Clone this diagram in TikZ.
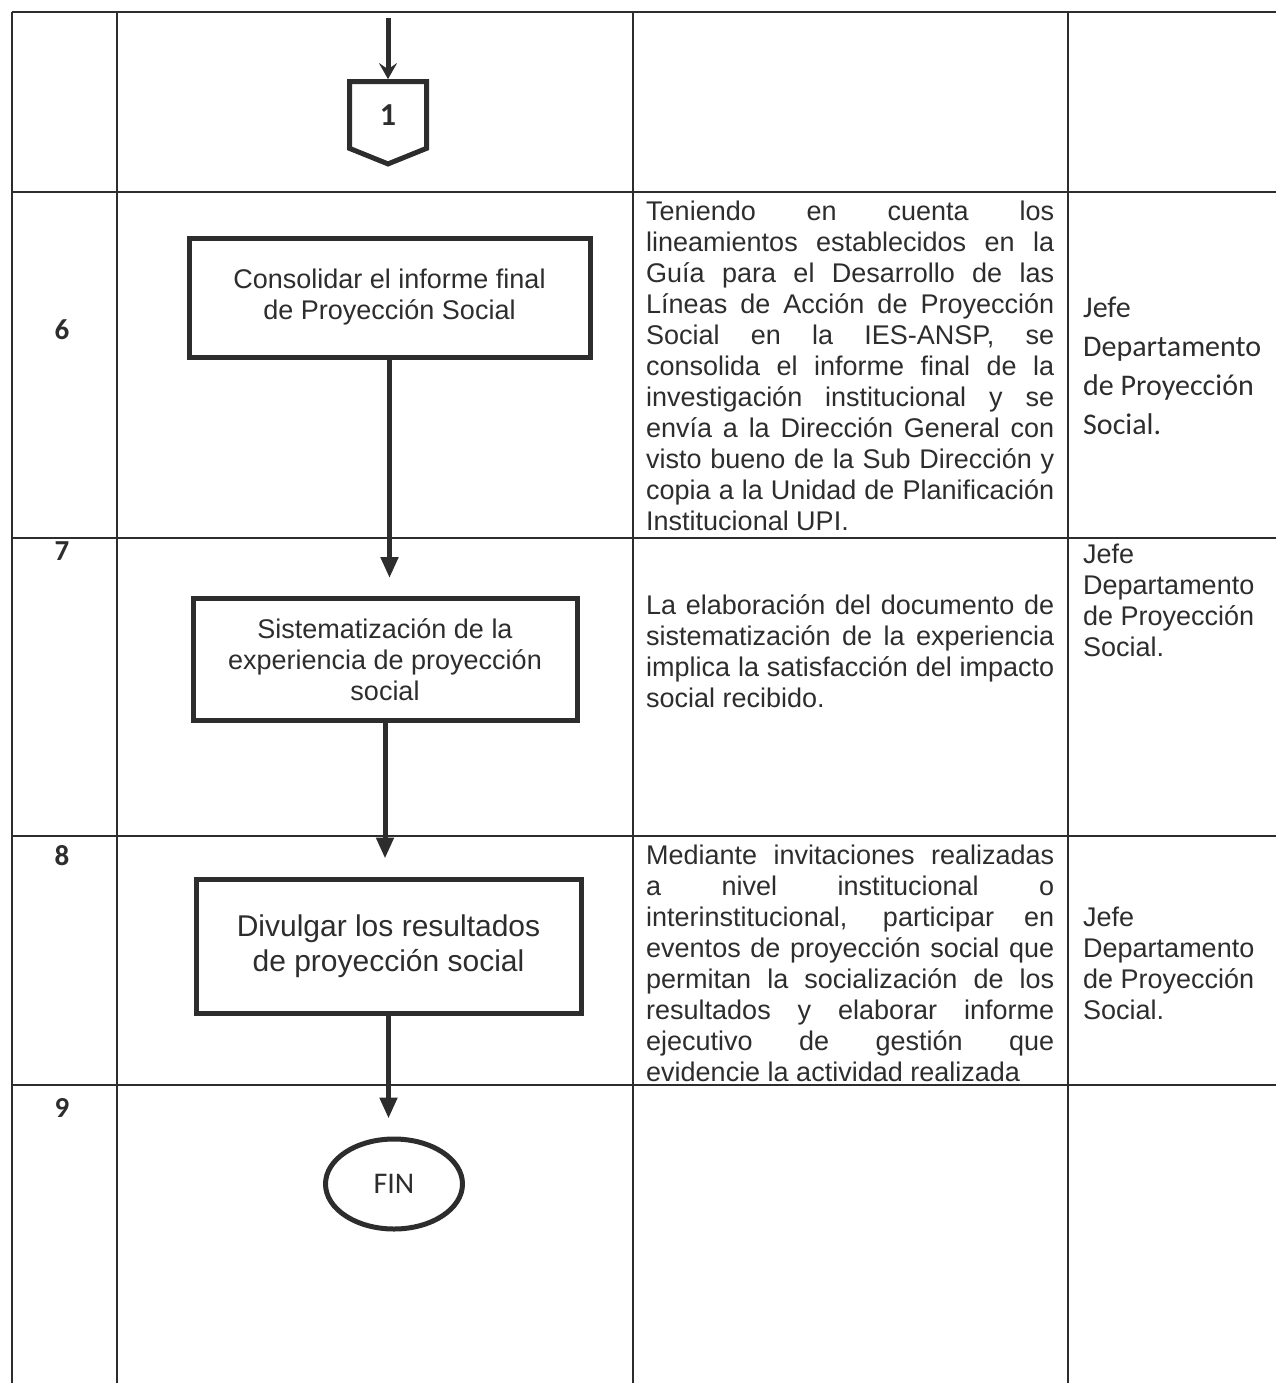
\documentclass[tikz,border=0pt]{standalone}
\usepackage{fontspec}
\setmainfont{Liberation Sans}
\newfontfamily\calib{Carlito}
\usetikzlibrary{arrows.meta,positioning,shapes.geometric,shapes.symbols}
\definecolor{ink}{RGB}{45,45,45}

\begin{document}
\begin{tikzpicture}[x=1pt,y=-1pt,
  every node/.style={text=ink,inner sep=0pt},
  grid/.style={draw=ink,line width=1.8pt},
  num/.style={font=\calib\bfseries\fontsize{29}{33}\selectfont},
  procbox/.style={draw=ink,line width=5pt,align=center,font=\fontsize{27}{31}\selectfont},
  offpage/.style={draw=ink,line width=5pt,shape=signal,signal to=south,signal pointer angle=136,minimum width=77pt,minimum height=70pt,font=\calib\bfseries\fontsize{32}{36}\selectfont},
  endnode/.style={draw=ink,line width=5pt,ellipse,minimum width=137pt,minimum height=90pt,font=\calib\fontsize{30}{34}\selectfont},
  desc/.style={anchor=west,text width=408pt,align=justify,font=\fontsize{27}{31}\selectfont},
  resp/.style={anchor=west,align=left,font=\fontsize{27}{31}\selectfont},
  ar/.style={-{Triangle[length=21pt,width=17pt]},draw=ink,line width=5pt,shorten >=18pt}]
\useasboundingbox (0,0) rectangle (1276,1383);
% table
\foreach \y in {12,192,538,836,1085} \draw[grid] (12,\y) -- (1276,\y);
\foreach \x in {12,117,633,1068} \draw[grid] (\x,12) -- (\x,1383);
% step numbers
\node[num] (n6) at (62,330) {6};
\node[num] (n7) at (62,551) {7};
\node[num] (n8) at (62,856) {8};
\node[num] (n9) at (62,1108) {9};
% flow
\node[offpage] (c1) at (388,115) {1};
\coordinate (in) at (388,18);
\node[procbox,minimum width=401pt,minimum height=119pt] (b1) at (389.5,297.5) {Consolidar el informe final\\de Proyección Social};
\node[procbox,minimum width=384pt,minimum height=122pt] (b2) at (385,659.5) {Sistematización de la\\experiencia de proyección\\social};
\node[procbox,minimum width=385pt,minimum height=134pt,font=\fontsize{30}{35}\selectfont] (b3) at (388.5,946) {Divulgar los resultados\\de proyección social};
\node[endnode] (fin) at (394,1184) {FIN};
\draw[-{Stealth[length=16pt,width=18pt,inset=6pt]},draw=ink,line width=5pt] (in) -- (c1.north);
\foreach \a/\b in {b1/b2,b2/b3,b3/fin} \draw[ar] (\a.south) -- (\a.south |- \b.north);
% descriptions
\node[desc] (d6) at (646,366) {Teniendo en cuenta los\linebreak
lineamientos establecidos en la\linebreak
Guía para el Desarrollo de las\linebreak
Líneas de Acción de Proyección\linebreak
Social en la IES-ANSP, se\linebreak
consolida el informe final de la\linebreak
investigación institucional y se\linebreak
envía a la Dirección General con\linebreak
visto bueno de la Sub Dirección y\linebreak
copia a la Unidad de Planificación\linebreak
Institucional UPI.};
\node[desc] (d7) at (646,651) {La elaboración del documento de\linebreak
sistematización de la experiencia\linebreak
implica la satisfacción del impacto\linebreak
social recibido.};
\node[desc] (d8) at (646,963) {Mediante invitaciones realizadas\linebreak
a nivel institucional o\linebreak
interinstitucional, participar en\linebreak
eventos de proyección social que\linebreak
permitan la socialización de los\linebreak
resultados y elaborar informe\linebreak
ejecutivo de gestión que\linebreak
evidencie la actividad realizada};
% responsible
\node[resp,font=\calib\fontsize{30}{39}\selectfont] (r6) at (1083,366) {Jefe\\Departamento\\de Proyección\\Social.};
\node[resp] (r7) at (1083,600) {Jefe\\Departamento\\de Proyección\\Social.};
\node[resp] (r8) at (1083,963) {Jefe\\Departamento\\de Proyección\\Social.};
\end{tikzpicture}
\end{document}
